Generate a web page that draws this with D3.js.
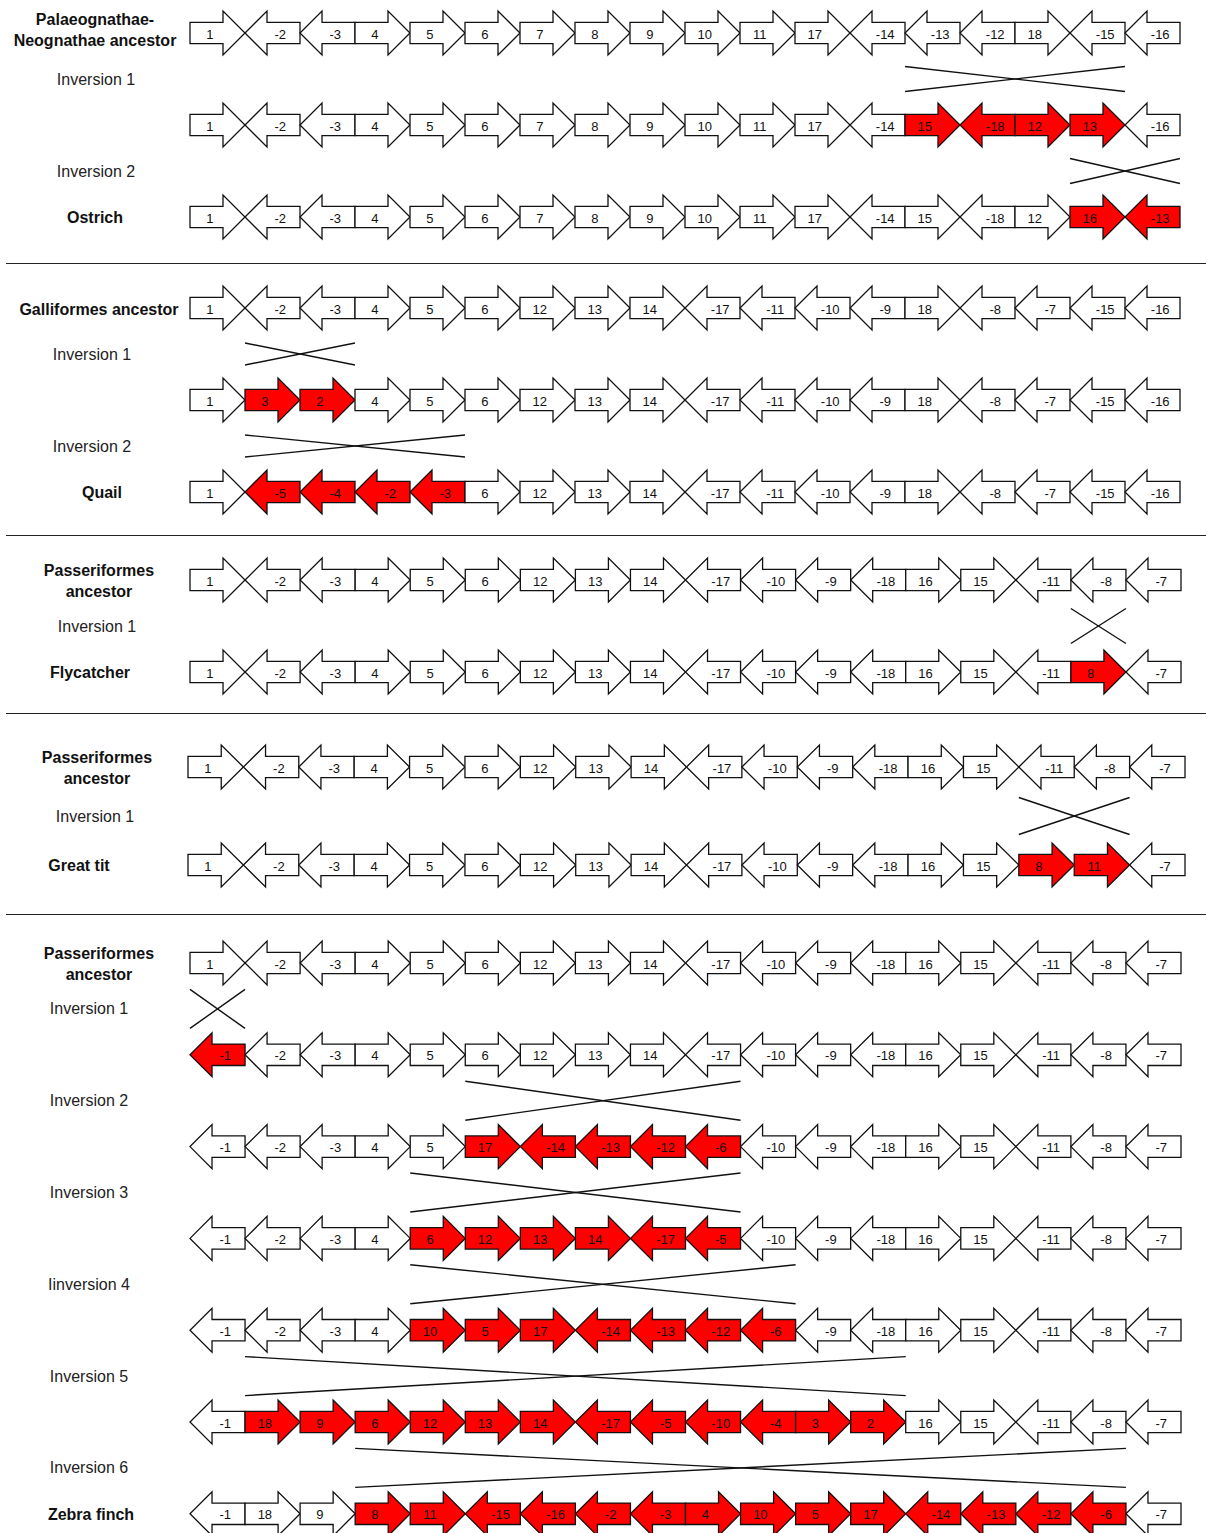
<!DOCTYPE html>
<html>
<head>
<meta charset="utf-8">
<script src="https://cdn.jsdelivr.net/npm/d3@7"></script>
<style>
  body { margin: 0; background: #fff; }
  text { font-family: "Liberation Sans", Arial, sans-serif; }
</style>
</head>
<body>
<svg id="chart"></svg>
<script>
const WIDTH = 1206;
const HEIGHT = 1533;
const N_GENES = 18;
const HIGHLIGHT = "#ff0000";

// ---- data: gene orders per row, inversions as [firstCell, lastCell] ----
const ostrichOrders = [
  [1, -2, -3, 4, 5, 6, 7, 8, 9, 10, 11, 17, -14, -13, -12, 18, -15, -16],
  [1, -2, -3, 4, 5, 6, 7, 8, 9, 10, 11, 17, -14, 15, -18, 12, 13, -16],
  [1, -2, -3, 4, 5, 6, 7, 8, 9, 10, 11, 17, -14, 15, -18, 12, 16, -13],
];
const ostrichInversions = [[13, 16], [16, 17]];
const ostrichNames = ["Palaeognathae-|Neognathae ancestor", "Ostrich"];
const ostrichSteps = ["Inversion 1", "Inversion 2"];

const quailOrders = [
  [1, -2, -3, 4, 5, 6, 12, 13, 14, -17, -11, -10, -9, 18, -8, -7, -15, -16],
  [1, 3, 2, 4, 5, 6, 12, 13, 14, -17, -11, -10, -9, 18, -8, -7, -15, -16],
  [1, -5, -4, -2, -3, 6, 12, 13, 14, -17, -11, -10, -9, 18, -8, -7, -15, -16],
];
const quailInversions = [[1, 2], [1, 4]];
const quailNames = ["Galliformes ancestor", "Quail"];
const quailSteps = ["Inversion 1", "Inversion 2"];

const flycatcherOrders = [
  [1, -2, -3, 4, 5, 6, 12, 13, 14, -17, -10, -9, -18, 16, 15, -11, -8, -7],
  [1, -2, -3, 4, 5, 6, 12, 13, 14, -17, -10, -9, -18, 16, 15, -11, 8, -7],
];
const flycatcherInversions = [[16, 16]];
const flycatcherNames = ["Passeriformes|ancestor", "Flycatcher"];
const flycatcherSteps = ["Inversion 1"];

const greatTitOrders = [
  [1, -2, -3, 4, 5, 6, 12, 13, 14, -17, -10, -9, -18, 16, 15, -11, -8, -7],
  [1, -2, -3, 4, 5, 6, 12, 13, 14, -17, -10, -9, -18, 16, 15, 8, 11, -7],
];
const greatTitInversions = [[15, 16]];
const greatTitNames = ["Passeriformes|ancestor", "Great tit"];
const greatTitSteps = ["Inversion 1"];

const zebraFinchOrders = [
  [1, -2, -3, 4, 5, 6, 12, 13, 14, -17, -10, -9, -18, 16, 15, -11, -8, -7],
  [-1, -2, -3, 4, 5, 6, 12, 13, 14, -17, -10, -9, -18, 16, 15, -11, -8, -7],
  [-1, -2, -3, 4, 5, 17, -14, -13, -12, -6, -10, -9, -18, 16, 15, -11, -8, -7],
  [-1, -2, -3, 4, 6, 12, 13, 14, -17, -5, -10, -9, -18, 16, 15, -11, -8, -7],
  [-1, -2, -3, 4, 10, 5, 17, -14, -13, -12, -6, -9, -18, 16, 15, -11, -8, -7],
  [-1, 18, 9, 6, 12, 13, 14, -17, -5, -10, -4, 3, 2, 16, 15, -11, -8, -7],
  [-1, 18, 9, 8, 11, -15, -16, -2, -3, 4, 10, 5, 17, -14, -13, -12, -6, -7],
];
const zebraFinchInversions = [[0, 0], [5, 9], [4, 9], [4, 10], [1, 12], [3, 16]];
const zebraFinchNames = ["Passeriformes|ancestor", "Zebra finch"];
const zebraFinchSteps = ["Inversion 1", "Inversion 2", "Inversion 3", "Iinversion 4",
  "Inversion 5", "Inversion 6"];

// ---- layout per panel (not data) ----
const sections = [
  { orders: ostrichOrders, inv: ostrichInversions, names: ostrichNames, steps: ostrichSteps,
    top: 33, step: 92, x0: 190, x1: 1180, cross: 12.5, labelX: [95, 96, 95], nameDy: -3.5 },
  { orders: quailOrders, inv: quailInversions, names: quailNames, steps: quailSteps,
    top: 308, step: 92, x0: 190, x1: 1180, cross: 11, labelX: [99, 92, 102], nameDy: 1, sepAbove: 263 },
  { orders: flycatcherOrders, inv: flycatcherInversions, names: flycatcherNames, steps: flycatcherSteps,
    top: 580, step: 92, x0: 190, x1: 1181, cross: 17.5, labelX: [99, 97, 90], nameDy: 0, sepAbove: 535 },
  { orders: greatTitOrders, inv: greatTitInversions, names: greatTitNames, steps: greatTitSteps,
    top: 767, step: 98, x0: 188, x1: 1185, cross: 18.5, labelX: [97, 95, 79], nameDy: 0, sepAbove: 713 },
  { orders: zebraFinchOrders, inv: zebraFinchInversions, names: zebraFinchNames, steps: zebraFinchSteps,
    top: 963, step: 91.8, x0: 190, x1: 1181, cross: 19.5, labelX: [99, 89, 91], nameDy: 0, sepAbove: 914 },
];

const BODY_FRAC = 0.6;
const BODY_HALF = 10.7;
const HEAD_HALF = 22;

function arrowPath(xa, w, cy, dir) {
  const bl = w * BODY_FRAC;
  const p = d3.path();
  if (dir > 0) {
    p.moveTo(xa, cy - BODY_HALF);
    p.lineTo(xa + bl, cy - BODY_HALF);
    p.lineTo(xa + bl, cy - HEAD_HALF);
    p.lineTo(xa + w, cy);
    p.lineTo(xa + bl, cy + HEAD_HALF);
    p.lineTo(xa + bl, cy + BODY_HALF);
    p.lineTo(xa, cy + BODY_HALF);
  } else {
    p.moveTo(xa + w, cy - BODY_HALF);
    p.lineTo(xa + w - bl, cy - BODY_HALF);
    p.lineTo(xa + w - bl, cy - HEAD_HALF);
    p.lineTo(xa, cy);
    p.lineTo(xa + w - bl, cy + HEAD_HALF);
    p.lineTo(xa + w - bl, cy + BODY_HALF);
    p.lineTo(xa + w, cy + BODY_HALF);
  }
  p.closePath();
  return p.toString();
}

const svg = d3.select("#chart").attr("width", WIDTH).attr("height", HEIGHT);

sections.forEach((sec) => {
  const x = d3.scaleLinear().domain([0, N_GENES]).range([sec.x0, sec.x1]);
  const w = x(1) - x(0);
  const y = d3.scaleLinear().domain([0, 1]).range([sec.top, sec.top + sec.step]);
  const g = svg.append("g").attr("class", "section");

  // highlighted cells of each row = cells touched by the previous inversion
  const rows = sec.orders.map((order, r) => {
    const prev = r > 0 ? sec.inv[r - 1] : null;
    return order.map((v, i) => ({
      v, i, r,
      red: prev && i >= prev[0] && i <= prev[1],
    }));
  });

  const rowG = g.selectAll("g.row").data(rows).join("g").attr("class", "row");

  rowG.selectAll("path.gene")
    .data((d) => d)
    .join("path")
    .attr("class", "gene")
    .attr("d", (d) => arrowPath(x(d.i), w, y(d.r), Math.sign(d.v)))
    .attr("fill", (d) => (d.red ? HIGHLIGHT : "#fff"))
    .attr("stroke", "#111")
    .attr("stroke-width", 1.3)
    .attr("stroke-linejoin", "miter");

  rowG.selectAll("text.gene-label")
    .data((d) => d)
    .join("text")
    .attr("class", "gene-label")
    .attr("x", (d) => x(d.i) + (d.v > 0 ? w * 0.36 : w * 0.64))
    .attr("y", (d) => y(d.r) + 1)
    .attr("text-anchor", "middle")
    .attr("dominant-baseline", "central")
    .attr("font-size", 13)
    .attr("fill", "#111")
    .text((d) => d.v);

  // inversion crosses between rows
  const crosses = g.selectAll("g.cross")
    .data(sec.inv.map((c, r) => ({ a: c[0], b: c[1], r })))
    .join("g")
    .attr("class", "cross");
  crosses.append("line")
    .attr("x1", (d) => x(d.a)).attr("x2", (d) => x(d.b + 1))
    .attr("y1", (d) => y(d.r + 0.5) - sec.cross)
    .attr("y2", (d) => y(d.r + 0.5) + sec.cross);
  crosses.append("line")
    .attr("x1", (d) => x(d.a)).attr("x2", (d) => x(d.b + 1))
    .attr("y1", (d) => y(d.r + 0.5) + sec.cross)
    .attr("y2", (d) => y(d.r + 0.5) - sec.cross);
  crosses.selectAll("line").attr("stroke", "#111").attr("stroke-width", 1.4);

  // left labels
  const last = sec.orders.length - 1;
  const nameLabels = [
    { text: sec.names[0], r: 0, cx: sec.labelX[0], dy: sec.nameDy },
    { text: sec.names[1], r: last, cx: sec.labelX[2], dy: 0 },
  ];
  g.selectAll("text.name")
    .data(nameLabels)
    .join("text")
    .attr("class", "name")
    .attr("text-anchor", "middle")
    .attr("font-size", 16)
    .attr("font-weight", "bold")
    .attr("fill", "#111")
    .each(function (d) {
      const lines = d.text.split("|");
      const t = d3.select(this);
      lines.forEach((ln, k) => {
        t.append("tspan")
          .attr("x", d.cx)
          .attr("y", y(d.r) + 6 + d.dy + (k - (lines.length - 1) / 2) * 21)
          .text(ln);
      });
    });

  g.selectAll("text.step")
    .data(sec.steps)
    .join("text")
    .attr("class", "step")
    .attr("x", sec.labelX[1])
    .attr("y", (d, r) => y(r + 0.5) + 5.5)
    .attr("text-anchor", "middle")
    .attr("font-size", 16)
    .attr("fill", "#222")
    .text((d) => d);

  if (sec.sepAbove) {
    svg.append("line")
      .attr("class", "sep")
      .attr("x1", 6).attr("x2", WIDTH)
      .attr("y1", sec.sepAbove + 0.5)
      .attr("y2", sec.sepAbove + 0.5)
      .attr("stroke", "#222")
      .attr("stroke-width", 1.2);
  }
});
</script>
</body>
</html>
